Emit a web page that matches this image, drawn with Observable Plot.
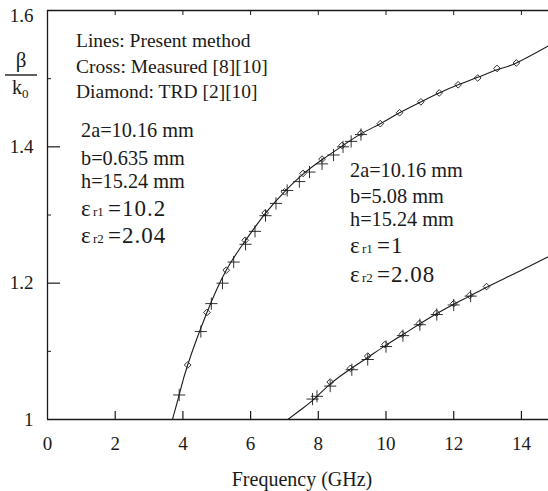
<!DOCTYPE html>
<html>
<head>
<meta charset="utf-8">
<script src="https://cdn.jsdelivr.net/npm/d3@7"></script>
<script src="https://cdn.jsdelivr.net/npm/@observablehq/plot@0.6"></script>
<style>
  html, body { margin: 0; padding: 0; background: #fff; }
  #chart svg { display: block; }
</style>
</head>
<body>
<div id="chart"></div>
<script>
// ---- axis ticks ----
const xTicks = [0, 2, 4, 6, 8, 10, 12, 14];
const yLabels = [1, 1.2, 1.4];
const yTopLabel = [1.6];
const yMajor = [1.2, 1.4];
const yMinor = [1.1, 1.3, 1.5];

// ---- curve 1 (b = 0.635 mm) ----
const line1X = [3.69, 3.89, 4.14, 4.71, 5.28, 5.84, 6.43, 7.00, 7.55, 8.11, 8.70, 9.26, 9.83, 10.40, 11.03, 11.57, 12.13, 12.71, 13.28, 13.85, 14.8];
const line1Y = [1.000, 1.036, 1.080, 1.157, 1.219, 1.262, 1.302, 1.334, 1.360, 1.381, 1.401, 1.419, 1.434, 1.450, 1.466, 1.479, 1.491, 1.502, 1.513, 1.523, 1.548];
const diamond1X = [4.14, 4.71, 5.28, 5.84, 6.43, 7.00, 7.55, 8.11, 8.70, 9.26, 9.83, 10.40, 11.03, 11.57, 12.13, 12.71, 13.28, 13.85];
const diamond1Y = [1.080, 1.157, 1.219, 1.263, 1.303, 1.334, 1.361, 1.382, 1.402, 1.420, 1.434, 1.450, 1.466, 1.479, 1.491, 1.501, 1.515, 1.523];
const cross1X = [3.89, 4.53, 4.84, 5.17, 5.50, 5.85, 6.13, 6.44, 6.75, 7.08, 7.44, 7.74, 8.11, 8.45, 8.73, 8.97, 9.26];
const cross1Y = [1.036, 1.129, 1.170, 1.200, 1.231, 1.257, 1.276, 1.299, 1.317, 1.336, 1.349, 1.363, 1.375, 1.388, 1.400, 1.408, 1.418];

// ---- curve 2 (b = 5.08 mm) ----
const line2X = [7.10, 7.50, 7.90, 8.35, 8.95, 9.46, 9.97, 10.48, 10.99, 11.49, 12.00, 12.47, 12.97, 13.50, 14.00, 14.8];
const line2Y = [1.000, 1.015, 1.031, 1.052, 1.074, 1.091, 1.108, 1.124, 1.140, 1.155, 1.169, 1.181, 1.194, 1.207, 1.219, 1.239];
const diamond2X = [8.35, 8.95, 9.46, 9.97, 10.48, 10.99, 11.49, 12.00, 12.47, 12.97];
const diamond2Y = [1.055, 1.075, 1.093, 1.110, 1.125, 1.141, 1.156, 1.170, 1.182, 1.195];
const cross2X = [7.83, 7.96, 8.35, 8.99, 9.46, 10.00, 10.50, 11.00, 11.50, 12.00, 12.50];
const cross2Y = [1.030, 1.034, 1.049, 1.073, 1.088, 1.107, 1.123, 1.139, 1.154, 1.168, 1.181];

const toPts = (xs, ys) => xs.map((x, i) => ({x, y: ys[i]}));
const ink = "#1a1a1a";
const serif = "Liberation Serif, DejaVu Serif, serif";

const W = 548, H = 491;
const mL = 47, mR = 0, mT = 10, mB = 72;
const fw = W - mL - mR, fh = H - mT - mB;
const fmtY = d => d === 1 ? "1" : d.toFixed(1);

const chart = Plot.plot({
  width: W, height: H,
  marginLeft: mL, marginRight: mR, marginTop: mT, marginBottom: mB,
  x: {domain: [0, 14.8]},
  y: {domain: [1, 1.6]},
  style: {fontFamily: serif, fontSize: "19px", color: ink, background: "#fff"},
  marks: [
    // frame lines
    Plot.ruleY([1], {stroke: ink, strokeWidth: 1.3}),
    Plot.ruleY([1.6], {stroke: ink, strokeWidth: 1.3}),
    Plot.ruleX([0], {stroke: ink, strokeWidth: 1.3}),
    // inward ticks
    Plot.ruleX(xTicks.filter(d => d > 0), {stroke: ink, strokeWidth: 1.2, insetTop: fh - 8}),
    Plot.ruleX(xTicks.filter(d => d > 0), {stroke: ink, strokeWidth: 1.0, insetBottom: fh - 5}),
    Plot.ruleY(yMajor, {stroke: ink, strokeWidth: 1.2, insetRight: fw - 13}),
    Plot.ruleY(yMinor, {stroke: ink, strokeWidth: 1.0, insetRight: fw - 4}),
    // tick labels
    Plot.axisX({ticks: xTicks, tickSize: 0, tickPadding: 17, label: null, fontSize: 19, tickFormat: d => String(d)}),
    Plot.axisY({ticks: yLabels, tickSize: 0, tickPadding: 14, label: null, fontSize: 19, tickFormat: fmtY}),
    Plot.axisY({ticks: yTopLabel, tickSize: 0, tickPadding: 14, label: null, fontSize: 19, tickFormat: fmtY, dy: 5}),
    // curves
    Plot.line(toPts(line1X, line1Y), {x: "x", y: "y", curve: "natural", stroke: ink, strokeWidth: 1.1, clip: true}),
    Plot.line(toPts(line2X, line2Y), {x: "x", y: "y", curve: "natural", stroke: ink, strokeWidth: 1.1, clip: true}),
    // markers
    Plot.dot(toPts(cross1X, cross1Y), {x: "x", y: "y", symbol: "plus", r: 4, stroke: ink, strokeWidth: 0.9}),
    Plot.dot(toPts(cross2X, cross2Y), {x: "x", y: "y", symbol: "plus", r: 4, stroke: ink, strokeWidth: 0.9}),
    Plot.dot(toPts(diamond1X, diamond1Y), {x: "x", y: "y", symbol: "diamond2", r: 3, stroke: ink, strokeWidth: 0.9, fill: "none"}),
    Plot.dot(toPts(diamond2X, diamond2Y), {x: "x", y: "y", symbol: "diamond2", r: 3, stroke: ink, strokeWidth: 0.9, fill: "none"}),
    // x axis title
    Plot.text(["Frequency (GHz)"], {frameAnchor: "bottom", dx: 4, dy: 66, lineAnchor: "bottom", fontSize: 20, fill: ink})
  ]
});
document.getElementById("chart").appendChild(chart);

// ---- annotations ----
const svg = d3.select(chart);
const g = svg.append("g")
  .attr("font-family", serif)
  .attr("text-anchor", "start")
  .attr("fill", ink);

function line(x, y, txt, size = 20.3) {
  g.append("text").attr("x", x).attr("y", y).attr("font-size", size).text(txt);
}
function epsLine(x, y, sub, val) {
  g.append("text").attr("x", x).attr("y", y).attr("font-size", 23).text("ε");
  g.append("text").attr("x", x + 12).attr("y", y).attr("font-size", 13).text(sub);
  g.append("text").attr("x", x + 27).attr("y", y).attr("font-size", 23).attr("letter-spacing", 1).text("=" + val);
}

// legend block
line(76, 47, "Lines: Present method", 19.5);
line(76, 73, "Cross: Measured [8][10]", 19.5);
line(76, 98, "Diamond: TRD [2][10]", 19.5);

// left parameter block
line(81, 136.5, "2a=10.16 mm");
line(81, 165, "b=0.635 mm");
line(81, 188, "h=15.24 mm");
epsLine(81, 216, "r1", "10.2");
epsLine(81, 242.5, "r2", "2.04");

// right parameter block
line(350, 177, "2a=10.16 mm");
line(350, 203, "b=5.08 mm");
line(350, 226, "h=15.24 mm");
epsLine(350, 253, "r1", "1");
epsLine(350, 282, "r2", "2.08");

// y label β / k0
g.append("text").attr("x", 21).attr("y", 67).attr("text-anchor", "middle").attr("font-size", 21).text("β");
g.append("line").attr("x1", 5).attr("x2", 37).attr("y1", 75).attr("y2", 75).attr("stroke", ink).attr("stroke-width", 1.4);
g.append("text").attr("x", 12).attr("y", 94).attr("font-size", 20).text("k");
g.append("text").attr("x", 22).attr("y", 98).attr("font-size", 13).text("0");
</script>
</body>
</html>
